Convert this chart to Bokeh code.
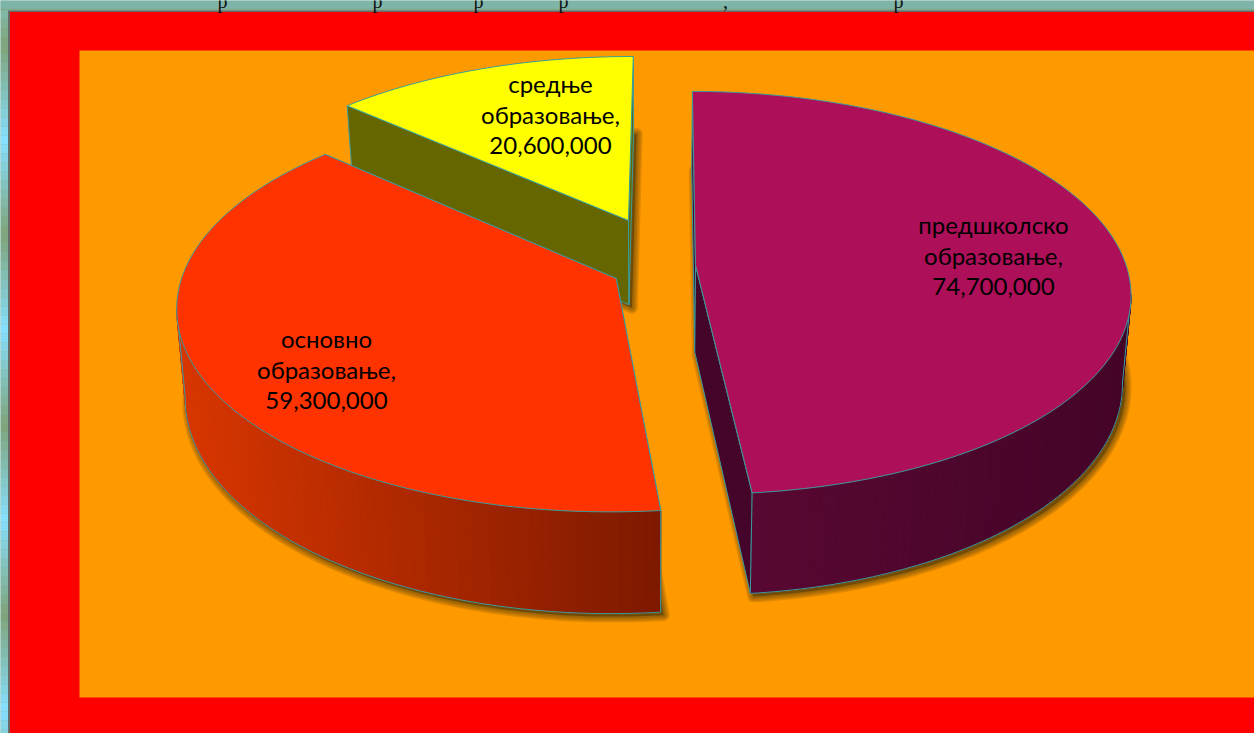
import numpy as np
from bokeh.plotting import figure
from bokeh.embed import file_html
from bokeh.resources import INLINE
from bokeh.core.properties import value

# ---- data -----------------------------------------------------------------
categories = ["предшколско образовање", "основно образовање", "средње образовање"]
values = [74700000, 59300000, 20600000]

# ---- slice styling ---------------------------------------------------------
top_colors = ["#AD0F58", "#FF3300", "#FFFF00"]
side_colors = ["#45052A", "#7F1900", "#666600"]
wall_left = [(88, 8, 50), (216, 54, 0), (102, 102, 0)]
wall_right = [(68, 4, 40), (125, 25, 0), (102, 102, 0)]
wall_span = [(752, 1125), (185, 660), (350, 630)]
explode = [(0.0985, -0.006), (-0.085, 0.06), (-0.059, -0.24)]
label_pos = [(993, 224), (326, 338), (550, 83)]
edge_color = "#3A9C9C"

# ---- projection parameters -------------------------------------------------
W, H = 1254, 733
CX, CY = 652.6, 266.0
A, B, K, DEPTH, SHRINK = 431.0, 198.0, 0.1365, 87.0, 0.018
FIRST_ANGLE = 0.3


def project(xw, yw, z):
    w = 1.0 / (1.0 - K * yw)
    return CX + A * xw * w * (1.0 - SHRINK * z), CY + (B * yw + DEPTH * z) * w


def rim(theta, off, z):
    t = np.radians(theta)
    return project(off[0] + np.sin(t), off[1] - np.cos(t), z)


def apex(off, z):
    return project(off[0], off[1], z)


def mix(c0, c1, f):
    f = min(max(f, 0.0), 1.0)
    return "#%02X%02X%02X" % tuple(int(round(a + (b - a) * f)) for a, b in zip(c0, c1))


p = figure(width=W, height=H, x_range=(0, W), y_range=(H, 0), output_backend="svg",
           toolbar_location=None, x_axis_type=None, y_axis_type=None, min_border=0,
           outline_line_color=None, background_fill_color="#7FB5A8",
           border_fill_color="#7FB5A8")
p.grid.visible = False

# ---- page background: the banded strip at the left, panel, plot area -------
band_green, band_blue = (127, 163, 120), (135, 224, 255)
band_tops = np.arange(0, H, 9)
band_cols = []
for y in band_tops:
    phase = ((y - 40) % 190) / 95.0
    band_cols.append(mix(band_green, band_blue, phase if phase <= 1 else 2 - phase))
p.quad(left=0, right=8, top=band_tops, bottom=band_tops + 9, fill_color=band_cols, line_color=None)
p.quad(left=0, right=W, top=0, bottom=10, fill_color="#7FB5A8", line_color=None)
p.quad(left=0, right=W, top=8, bottom=10, fill_color="#7FAB90", line_color=None)
p.quad(left=7.5, right=W, top=10, bottom=H, fill_color="#6A6A6A", line_color=None)
p.quad(left=9.5, right=W, top=11.5, bottom=H, fill_color="#FF0000", line_color=None)
p.quad(left=79, right=W, top=50, bottom=697, fill_color="#FF9900", line_color=None)

# clipped line of the slide text above the panel (only descenders remain)
frag_glyphs = ["р", "р", "р", "р", "р", ","]
frag_x = [222, 377, 478, 563, 898, 725]
p.text(x=frag_x, y=[0] * 6, text=frag_glyphs, text_font=value("Liberation Serif"),
       text_font_size="20px", text_color="#111111", text_align="center", text_baseline="alphabetic")

# ---- geometry from the values ----------------------------------------------
total = float(sum(values))
sweeps = [v / total * 360.0 for v in values]
starts = [FIRST_ANGLE + sum(sweeps[:i]) for i in range(len(values))]

slices = []
for i, sw in enumerate(sweeps):
    th = np.linspace(starts[i], starts[i] + sw, int(sw) + 2)
    off = explode[i]
    tx, ty = rim(th, off, 0)
    bx, by = rim(th, off, 1)
    ax0, ay0 = apex(off, 0)
    ax1, ay1 = apex(off, 1)
    slices.append(dict(th=th, tx=tx, ty=ty, bx=bx, by=by, ax0=ax0, ay0=ay0, ax1=ax1, ay1=ay1))

# ---- soft shadow of each slice's lower face --------------------------------
SHADOW = "#40300A"
for s in slices:
    sx = [x + 3 for x in list(s["bx"]) + [s["ax1"]]]
    sy = [y + 3 for y in list(s["by"]) + [s["ay1"]]]
    for lw in (12, 9, 6, 3):
        p.patch(sx, sy, fill_color=None, fill_alpha=0, line_color=SHADOW, line_alpha=0.16,
                line_width=lw, line_join="round")
    p.patch(sx, sy, fill_color=SHADOW, fill_alpha=0.5, line_color=None)


def visible_range(i):
    """Steps of the outer wall that face the viewer (between tangent and front)."""
    s = slices[i]
    n = len(s["th"])
    if s["th"][0] < 90 < s["th"][-1]:      # right-hand side of the pie
        return int(np.argmax(s["bx"])), n - 1
    if s["th"][0] < 270 < s["th"][-1]:     # left-hand side of the pie
        return 0, int(np.argmin(s["bx"]))
    return 0, 0


def draw_slice(i):
    s = slices[i]
    # cut faces
    for j in (0, -1):
        xs = [s["tx"][j], s["ax0"], s["ax1"], s["bx"][j]]
        ys = [s["ty"][j], s["ay0"], s["ay1"], s["by"][j]]
        p.patch(xs, ys, fill_color=side_colors[i], line_color=edge_color, line_width=1)
    # curved outer wall, in steps coloured across the screen
    k0, k1 = visible_range(i)
    if k1 > k0:
        xa, ya, cols = [], [], []
        x0, x1 = wall_span[i]
        for k in range(k0, k1):
            xa.append([s["tx"][k], s["tx"][k + 1], s["bx"][k + 1], s["bx"][k]])
            ya.append([s["ty"][k], s["ty"][k + 1], s["by"][k + 1], s["by"][k]])
            cols.append(mix(wall_left[i], wall_right[i], (np.mean(xa[-1]) - x0) / (x1 - x0)))
        p.patches(xa, ya, fill_color=cols, line_color=cols, line_width=1)
        # lower rim line and the tangent line up to the top face
        p.line(s["bx"][k0:k1 + 1], s["by"][k0:k1 + 1], line_color=edge_color, line_width=1)
        tangent = k1 if i == 1 else k0
        p.line([s["tx"][tangent], s["bx"][tangent]], [s["ty"][tangent], s["by"][tangent]],
               line_color=edge_color, line_width=1)
    # top face
    xs = list(s["tx"]) + [s["ax0"]]
    ys = list(s["ty"]) + [s["ay0"]]
    p.patch(xs, ys, fill_color=top_colors[i], line_color=edge_color, line_width=1, line_join="round")
    # vertical edges at slice ends
    for j in (0, -1):
        if s["ty"][j] > s["ay0"]:
            p.line([s["tx"][j], s["bx"][j]], [s["ty"][j], s["by"][j]], line_color=edge_color, line_width=1)


for i in (2, 1, 0):
    draw_slice(i)

# ---- data labels -----------------------------------------------------------
for cat, val, (lx, ly) in zip(categories, values, label_pos):
    lines = cat.split(" ")
    lines[-1] += ","
    lines.append(f"{val:,}")
    p.text(x=[lx] * 3, y=[ly + n * 31.2 for n in range(3)], text=lines,
           text_font=value("Lato"), text_font_size="24px", text_color="#000000",
           text_align="center", text_baseline="middle")

html = file_html(p, INLINE)
html = html.replace("<head>", "<head><style>html,body{margin:0;padding:0;overflow:hidden}</style>", 1)
open("out.html", "w", encoding="utf-8").write(html)
